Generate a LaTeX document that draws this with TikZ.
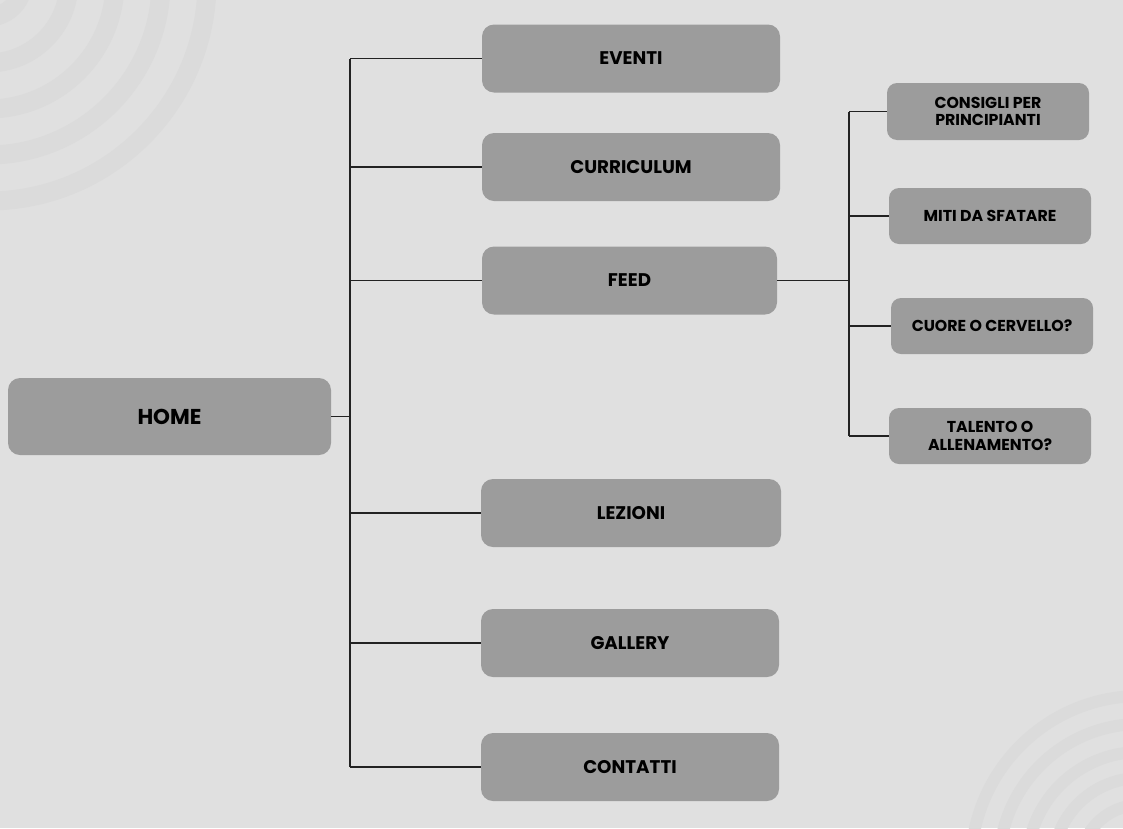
\documentclass[tikz,border=0pt]{standalone}
\usepackage{fontspec}
\newfontfamily\lab{Poppins}
\definecolor{bgc}{HTML}{E0E0E0}
\definecolor{stripec}{HTML}{DBDBDB}
\definecolor{boxc}{HTML}{9C9C9C}
\definecolor{linec}{HTML}{222222}
\tikzset{
  mainbox/.style={fill=boxc, rounded corners=12pt, minimum width=298pt, minimum height=68pt, inner sep=0pt, font=\lab\bfseries\fontsize{18.3}{20}\selectfont, text=black, align=center},
  subbox/.style={fill=boxc, rounded corners=10pt, minimum width=202pt, minimum height=56pt, inner sep=0pt, font=\lab\bfseries\fontsize{15.8}{17.5}\selectfont, text=black, align=center},
  conn/.style={draw=linec, line width=1.4pt},
  stripeA/.style={draw=stripec, line width=19pt},
  stripeB/.style={draw=stripec, line width=12pt}
}
\begin{document}
\begin{tikzpicture}[x=1pt,y=-1pt]
\fill[bgc] (0,0) rectangle (1123,828);
\useasboundingbox (0,0) rectangle (1123,828);
\begin{scope}
\clip (0,0) rectangle (1123,828);
\foreach \r in {35,81,127,173,219} \draw[stripeA] (-12,-18) circle[radius=\r pt];
\foreach \r in {60,87,113,141,169} \draw[stripeB] (1140,865) circle[radius=\r pt];
\end{scope}

\node[mainbox, minimum width=323pt, minimum height=77pt, font=\lab\bfseries\fontsize{21.5}{23}\selectfont] (home) at (169.5,416.5) {HOME};
\node[mainbox] (eventi) at (631,58.5) {EVENTI};
\node[mainbox] (curr) at (631,167) {CURRICULUM};
\node[mainbox, minimum width=295pt] (feed) at (629.5,280.5) {FEED};
\node[mainbox, minimum width=300pt] (lez) at (631,513) {LEZIONI};
\node[mainbox] (gall) at (630,643) {GALLERY};
\node[mainbox] (cont) at (630,767) {CONTATTI};

\node[subbox, minimum height=57pt] (cons) at (988,111.5) {CONSIGLI PER\\PRINCIPIANTI};
\node[subbox] (miti) at (990,216) {MITI DA SFATARE};
\node[subbox] (cuore) at (992,326) {CUORE O CERVELLO?};
\node[subbox] (tal) at (990,436) {TALENTO O\\ALLENAMENTO?};

\coordinate (tk) at (350,0);
\coordinate (sk) at (849,0);
\draw[conn] (eventi.west -| tk) -- (cont.west -| tk);
\foreach \n in {eventi,curr,feed,lez,gall,cont} \draw[conn] (\n.west -| tk) -- (\n.west);
\draw[conn] (home.east) -- (home.east -| tk);
\draw[conn] (cons.west -| sk) -- (tal.west -| sk);
\foreach \n in {cons,miti,cuore,tal} \draw[conn] (\n.west -| sk) -- (\n.west);
\draw[conn] (feed.east) -- (feed.east -| sk);
\end{tikzpicture}
\end{document}
